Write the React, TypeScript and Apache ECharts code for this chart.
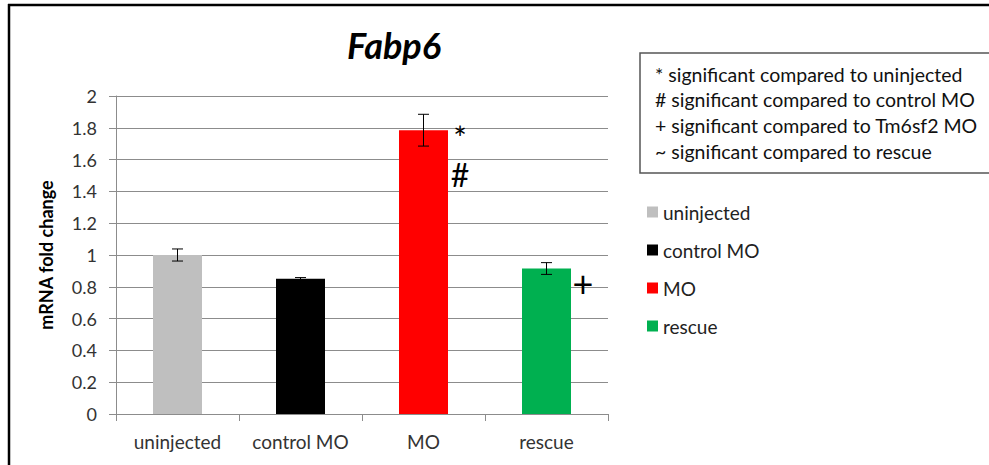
import React, { useEffect, useRef } from "react";
import * as echarts from "echarts";

const title = "Fabp6";
const yAxisName = "mRNA fold change";
const categories = ["uninjected", "control MO", "MO", "rescue"];
const means = [1.0, 0.85, 1.785, 0.915];
const errors = [0.038, 0.008, 0.1, 0.037];
const annotations: string[][] = [[], [], ["*", "#"], ["+"]];
const noteLines = [
  "* significant compared to uninjected",
  "# significant compared to control MO",
  "+ significant compared to Tm6sf2 MO",
  "~ significant compared to rescue",
];
const yMin = 0;
const yMax = 2;
const yInterval = 0.2;

const barColors = ["#bfbfbf", "#000000", "#ff0000", "#00b050"];
const FONT = "Lato, 'Open Sans', sans-serif";

export default function App() {
  const ref = useRef<HTMLDivElement>(null);
  useEffect(() => {
    if (!ref.current) return;
    const chart = echarts.init(ref.current, undefined, { renderer: "svg" });

    const barSeries = categories.map((name, i) => ({
      name,
      type: "bar",
      data: categories.map((_, j) => (j === i ? means[i] : "-")),
      barWidth: 49,
      barGap: "-100%",
      itemStyle: { color: barColors[i] },
      z: 2,
    }));

    const errorData = means.map((m, i) => [i, m - errors[i], m + errors[i]]);
    const annData: number[][] = [];
    annotations.forEach((syms, i) => syms.forEach((_, k) => annData.push([i, means[i], k])));

    const option: any = {
      animation: false,
      textStyle: { fontFamily: FONT },
      grid: { left: 116, right: 381, top: 96, bottom: 51, containLabel: false },
      xAxis: {
        type: "category",
        data: categories,
        axisLine: { lineStyle: { color: "#8c8c8c", width: 1 } },
        axisTick: { show: true, length: 7, alignWithLabel: false, lineStyle: { color: "#8c8c8c" } },
        axisLabel: { color: "#333", fontSize: 19, margin: 18, fontFamily: FONT, interval: 0 },
      },
      yAxis: {
        type: "value",
        min: yMin,
        max: yMax,
        interval: yInterval,
        name: yAxisName,
        nameLocation: "middle",
        nameGap: 61,
        nameTextStyle: { fontWeight: "bold", fontSize: 18, color: "#000", fontFamily: FONT },
        axisLine: { show: true, lineStyle: { color: "#8c8c8c", width: 1 } },
        axisTick: { show: true, length: 7, lineStyle: { color: "#8c8c8c" } },
        axisLabel: {
          color: "#333",
          fontSize: 18,
          margin: 19,
          fontFamily: FONT,
          formatter: (v: number) => String(Math.round(v * 10) / 10),
        },
        splitLine: { show: true, lineStyle: { color: "#8c8c8c", width: 1 } },
      },
      legend: {
        orient: "vertical",
        left: 642,
        top: 196,
        icon: "rect",
        itemWidth: 11,
        itemHeight: 11,
        itemGap: 16,
        data: categories,
        textStyle: { fontSize: 19, color: "#222", fontFamily: FONT, lineHeight: 22 },
      },
      series: [
        ...barSeries,
        {
          type: "custom",
          name: "error",
          data: errorData,
          z: 5,
          renderItem: (params: any, api: any) => {
            const lo = api.coord([api.value(0), api.value(1)]);
            const hi = api.coord([api.value(0), api.value(2)]);
            const hw = 5.5;
            const style = { stroke: "#000", lineWidth: 1 };
            return {
              type: "group",
              children: [
                { type: "line", shape: { x1: lo[0], y1: lo[1], x2: hi[0], y2: hi[1] }, style },
                { type: "line", shape: { x1: lo[0] - hw, y1: lo[1], x2: lo[0] + hw, y2: lo[1] }, style },
                { type: "line", shape: { x1: hi[0] - hw, y1: hi[1], x2: hi[0] + hw, y2: hi[1] }, style },
              ],
            };
          },
        },
        {
          type: "custom",
          name: "annotations",
          data: annData,
          z: 6,
          renderItem: (params: any, api: any) => {
            const i = api.value(0);
            const k = api.value(2);
            const top = api.coord([i, api.value(1)]);
            const sym = annotations[i][k];
            const stacked = annotations[i].length > 1;
            const fontSize = stacked ? 32 : 36;
            const dy = stacked ? (k === 0 ? 7 : 44) : 14;
            return {
              type: "text",
              x: top[0] + 24.5 + 12,
              y: top[1] + dy,
              style: {
                text: sym,
                fontSize,
                fontFamily: FONT,
                fill: "#000",
                textVerticalAlign: "middle",
                textAlign: "center",
              },
            };
          },
        },
      ],
      graphic: [
        { type: "line", shape: { x1: 8, y1: 5, x2: 989, y2: 5 }, style: { stroke: "#000", lineWidth: 2.5 } },
        { type: "line", shape: { x1: 9, y1: 4, x2: 9, y2: 465 }, style: { stroke: "#000", lineWidth: 2.5 } },
        {
          type: "text",
          x: 394,
          y: 45,
          style: {
            text: title,
            fontSize: 36,
            fontWeight: "bold",
            fontStyle: "italic",
            fontFamily: FONT,
            fill: "#000",
            textAlign: "center",
            textVerticalAlign: "middle",
          },
        },
        {
          type: "rect",
          shape: { x: 640, y: 53, width: 360, height: 120 },
          style: { fill: "#fff", stroke: "#555", lineWidth: 1.5 },
        },
        ...noteLines.map((t, i) => ({
          type: "text",
          x: 655,
          y: 74 + i * 25.7,
          style: {
            text: t,
            fontSize: 19.5,
            fontFamily: FONT,
            fill: "#111",
            textAlign: "left",
            textVerticalAlign: "middle",
          },
        })),
      ],
    };
    chart.setOption(option);
    return () => chart.dispose();
  }, []);
  return (
    <div
      ref={ref}
      style={{ position: "fixed", left: 0, top: 0, width: 989, height: 465, background: "#fff" }}
    />
  );
}
